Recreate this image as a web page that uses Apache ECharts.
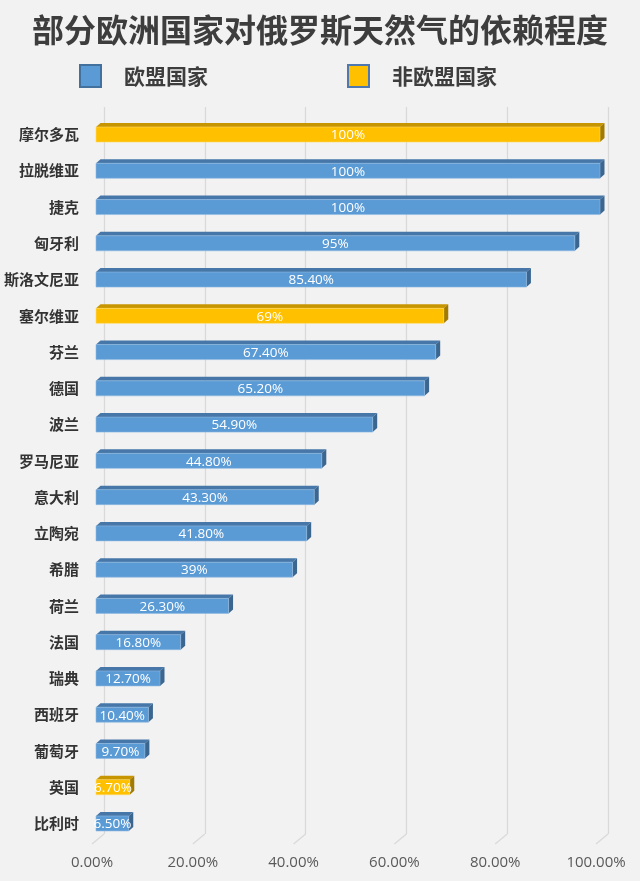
<!DOCTYPE html>
<html>
<head>
<meta charset="utf-8">
<script src="https://cdn.jsdelivr.net/npm/echarts@6/dist/echarts.min.js"></script>
<style>
  html, body { margin: 0; padding: 0; background: #f2f2f2; }
  #chart { width: 640px; height: 881px; }
</style>
</head>
<body>
<div id="chart"></div>
<script>
// ---- data ----
const categories = ['摩尔多瓦','拉脱维亚','捷克','匈牙利','斯洛文尼亚','塞尔维亚','芬兰','德国','波兰','罗马尼亚','意大利','立陶宛','希腊','荷兰','法国','瑞典','西班牙','葡萄牙','英国','比利时'];
const values = [100, 100, 100, 95, 85.4, 69, 67.4, 65.2, 54.9, 44.8, 43.3, 41.8, 39, 26.3, 16.8, 12.7, 10.4, 9.7, 6.7, 6.5];
const isEU = [false, true, true, true, true, false, true, true, true, true, true, true, true, true, true, true, true, true, false, true];
const seriesNames = ['欧盟国家', '非欧盟国家'];
const axisTicks = [0, 20, 40, 60, 80, 100];

const CJK = '"Noto Sans CJK SC", "Noto Sans", sans-serif';
const LAT = '"Open Sans", "Noto Sans", sans-serif';

const palette = {
  eu:  { front: '#5b9bd5', top: '#4677a8', side: '#3b6690', edge: '#8fb8e0', legendBorder: '#41719c' },
  non: { front: '#ffc000', top: '#c79500', side: '#a27a00', edge: '#ffd966', legendBorder: '#4f77b0' }
};

function fmt(v) {
  return Number.isInteger(v) ? v + '%' : v.toFixed(2) + '%';
}

function makeRender(c) {
  return function (params, api) {
    const v = api.value(0);
    const cat = api.value(1);
    const s = api.coord([0, cat]);
    const e = api.coord([v, cat]);
    const h = 15, dx = 4.5, dy = 4;
    const x0 = s[0], x1 = e[0], cy = s[1];
    const yt = cy - h / 2, yb = cy + h / 2;
    return {
      type: 'group',
      children: [
        { type: 'polygon', shape: { points: [[x0, yt], [x0 + dx, yt - dy], [x1 + dx, yt - dy], [x1, yt]] }, style: { fill: c.top } },
        { type: 'polygon', shape: { points: [[x1, yt], [x1 + dx, yt - dy], [x1 + dx, yb - dy], [x1, yb]] }, style: { fill: c.side } },
        { type: 'rect', shape: { x: x0, y: yt, width: x1 - x0, height: h }, style: { fill: c.front, stroke: c.edge, lineWidth: 0.6 } },
        { type: 'text', style: { text: fmt(v), x: (x0 + x1) / 2, y: cy + 1, align: 'center', verticalAlign: 'middle', fill: '#ffffff', fontSize: 13.5, fontFamily: LAT } }
      ]
    };
  };
}

const euData = [], nonData = [];
categories.forEach((c, i) => {
  (isEU[i] ? euData : nonData).push([values[i], c]);
});

const chart = echarts.init(document.getElementById('chart'), null, { renderer: 'canvas' });
chart.setOption({
  backgroundColor: '#f2f2f2',
  animation: false,
  title: {
    text: '部分欧洲国家对俄罗斯天然气的依赖程度',
    left: 'center', top: 9,
    textStyle: { fontFamily: CJK, fontSize: 32, fontWeight: 'bold', color: '#3d3d3d' }
  },
  legend: {
    left: 74, top: 59,
    itemWidth: 21, itemHeight: 22, itemGap: 139,
    icon: 'rect',
    data: seriesNames,
    textStyle: { fontFamily: CJK, fontSize: 21, fontWeight: 'bold', color: '#3d3d3d', padding: [0, 0, 0, 18] }
  },
  grid: [
    { left: 104, right: 32, top: 107, bottom: 47 },     // back wall
    { left: 96, right: 40, top: 116.4, bottom: 39.4 },  // bars
    { left: 92, right: 44, top: 107, bottom: 37 }       // floor front / labels
  ],
  xAxis: [
    { gridIndex: 0, type: 'value', min: 0, max: 100, interval: 20,
      axisLine: { show: false }, axisTick: { show: false }, axisLabel: { show: false },
      splitLine: { show: true, lineStyle: { color: '#d9d9d9', width: 1.3 } } },
    { gridIndex: 1, type: 'value', min: 0, max: 100, interval: 20, show: false },
    { gridIndex: 2, type: 'value', min: 0, max: 100, interval: 20,
      axisLine: { show: false }, axisTick: { show: false }, splitLine: { show: false },
      axisLabel: { margin: 11, fontFamily: LAT, fontSize: 15, color: '#595959',
        formatter: v => v.toFixed(2) + '%' } }
  ],
  yAxis: [
    { gridIndex: 0, type: 'value', min: 0, max: 1, show: false },
    { gridIndex: 1, type: 'category', inverse: true, data: categories,
      axisLine: { show: false }, axisTick: { show: false }, splitLine: { show: false },
      axisLabel: { margin: 17, fontFamily: CJK, fontSize: 15, fontWeight: 'bold', color: '#333333', padding: [4, 0, 0, 0] } },
    { gridIndex: 2, type: 'value', min: 0, max: 1, show: false }
  ],
  series: [
    {
      type: 'custom', name: 'floor', xAxisIndex: 0, yAxisIndex: 0, silent: true, z: 1,
      data: axisTicks.map(t => [t, 0]),
      renderItem: function (params, api) {
        const p = api.coord([api.value(0), 0]);
        return { type: 'line', shape: { x1: p[0], y1: p[1], x2: p[0] - 12, y2: p[1] + 10 }, style: { stroke: '#d9d9d9', lineWidth: 1.3 } };
      }
    },
    {
      type: 'custom', name: seriesNames[0], xAxisIndex: 1, yAxisIndex: 1, z: 3,
      itemStyle: { color: palette.eu.front, borderColor: palette.eu.legendBorder, borderWidth: 1.5 },
      encode: { x: 0, y: 1 },
      data: euData,
      renderItem: makeRender(palette.eu)
    },
    {
      type: 'custom', name: seriesNames[1], xAxisIndex: 1, yAxisIndex: 1, z: 3,
      itemStyle: { color: palette.non.front, borderColor: palette.non.legendBorder, borderWidth: 1.5 },
      encode: { x: 0, y: 1 },
      data: nonData,
      renderItem: makeRender(palette.non)
    }
  ]
});
</script>
</body>
</html>
